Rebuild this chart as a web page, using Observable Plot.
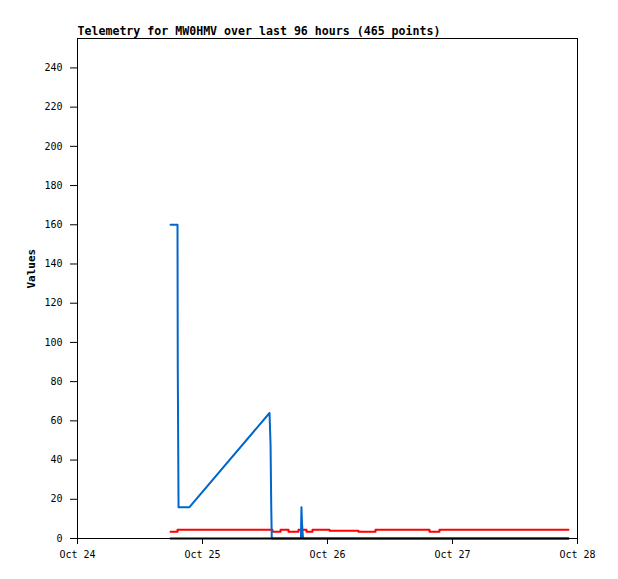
<!DOCTYPE html>
<html><head><meta charset="utf-8">
<script src="https://cdn.jsdelivr.net/npm/d3@7"></script>
<script src="https://cdn.jsdelivr.net/npm/@observablehq/plot@0.6"></script>
<style>
html,body{margin:0;padding:0;background:#fff;}
</style>
</head><body><div id="chart"></div>
<script>
const title = "Telemetry for MW0HMV over last 96 hours (465 points)";
const yLabel = "Values";
const xTickDates = ["2023-10-24T00:00", "2023-10-25T00:00", "2023-10-26T00:00", "2023-10-27T00:00", "2023-10-28T00:00"];
const yTicks = [0, 20, 40, 60, 80, 100, 120, 140, 160, 180, 200, 220, 240];
const xDomain = ["2023-10-24T00:00", "2023-10-28T00:00"];
const yDomain = [0, 255];

// blue channel
const blueTimes = ["2023-10-24T17:52", "2023-10-24T19:12", "2023-10-24T19:15", "2023-10-24T19:24", "2023-10-24T21:30",
  "2023-10-25T12:52", "2023-10-25T13:04", "2023-10-25T13:12", "2023-10-25T13:18",
  "2023-10-25T18:54", "2023-10-25T19:00", "2023-10-25T19:06", "2023-10-25T19:18", "2023-10-27T22:16"];
const blueValues = [160, 160, 88, 16, 16, 64, 48, 16, 0, 0, 16, 8, 0, 0];

// red channel (stepped)
const redTimes = ["2023-10-24T17:52", "2023-10-24T19:12", "2023-10-25T13:26", "2023-10-25T14:59", "2023-10-25T16:31",
  "2023-10-25T18:26", "2023-10-25T19:58", "2023-10-25T21:07", "2023-10-26T00:23", "2023-10-26T05:57",
  "2023-10-26T09:13", "2023-10-26T19:35", "2023-10-26T21:30", "2023-10-27T22:16"];
const redValues = [3.5, 4.5, 3.5, 4.5, 3.5, 4.5, 3.5, 4.5, 4.0, 3.5, 4.5, 3.5, 4.5, 4.5];

// black channel
const blackTimes = ["2023-10-24T17:52", "2023-10-27T22:16"];
const blackValues = [0, 0];

const parse = d3.utcParse("%Y-%m-%dT%H:%M");
const toRows = (times, values) => times.map((t, i) => ({t: parse(t), v: values[i]}));
const blue = toRows(blueTimes, blueValues);
const red = toRows(redTimes, redValues);
const black = toRows(blackTimes, blackValues);

const chart = Plot.plot({
  width: 618,
  height: 579,
  marginLeft: 77,
  marginRight: 41,
  marginTop: 38,
  marginBottom: 41,
  style: {fontFamily: "'DejaVu Sans Mono', monospace", fontSize: "10px", background: "#fff", color: "#000"},
  x: {type: "utc", domain: xDomain.map(parse)},
  y: {domain: yDomain},
  marks: [
    Plot.frame({stroke: "#000"}),
    Plot.axisY({ticks: yTicks, tickSize: 7, tickPadding: 8, label: null}),
    Plot.axisX({ticks: xTickDates.map(parse), tickFormat: d3.utcFormat("%b %-d"), tickSize: 6, tickPadding: 6, label: null}),
    Plot.lineY(red, {x: "t", y: "v", stroke: "#ff0000", strokeWidth: 2, curve: "step-after"}),
    Plot.lineY(blue, {x: "t", y: "v", stroke: "#0066cc", strokeWidth: 2, curve: "linear"}),
    Plot.lineY(black, {x: "t", y: "v", stroke: "#000", strokeWidth: 2}),
    Plot.text([title], {frameAnchor: "top-left", textAnchor: "start", lineAnchor: "bottom", dy: -4, fontWeight: "bold", fontSize: 11.6}),
    Plot.text([yLabel], {frameAnchor: "left", dx: -46, rotate: -90, fontWeight: "bold", fontSize: 11})
  ]
});
document.getElementById("chart").append(chart);
</script>
</body></html>
